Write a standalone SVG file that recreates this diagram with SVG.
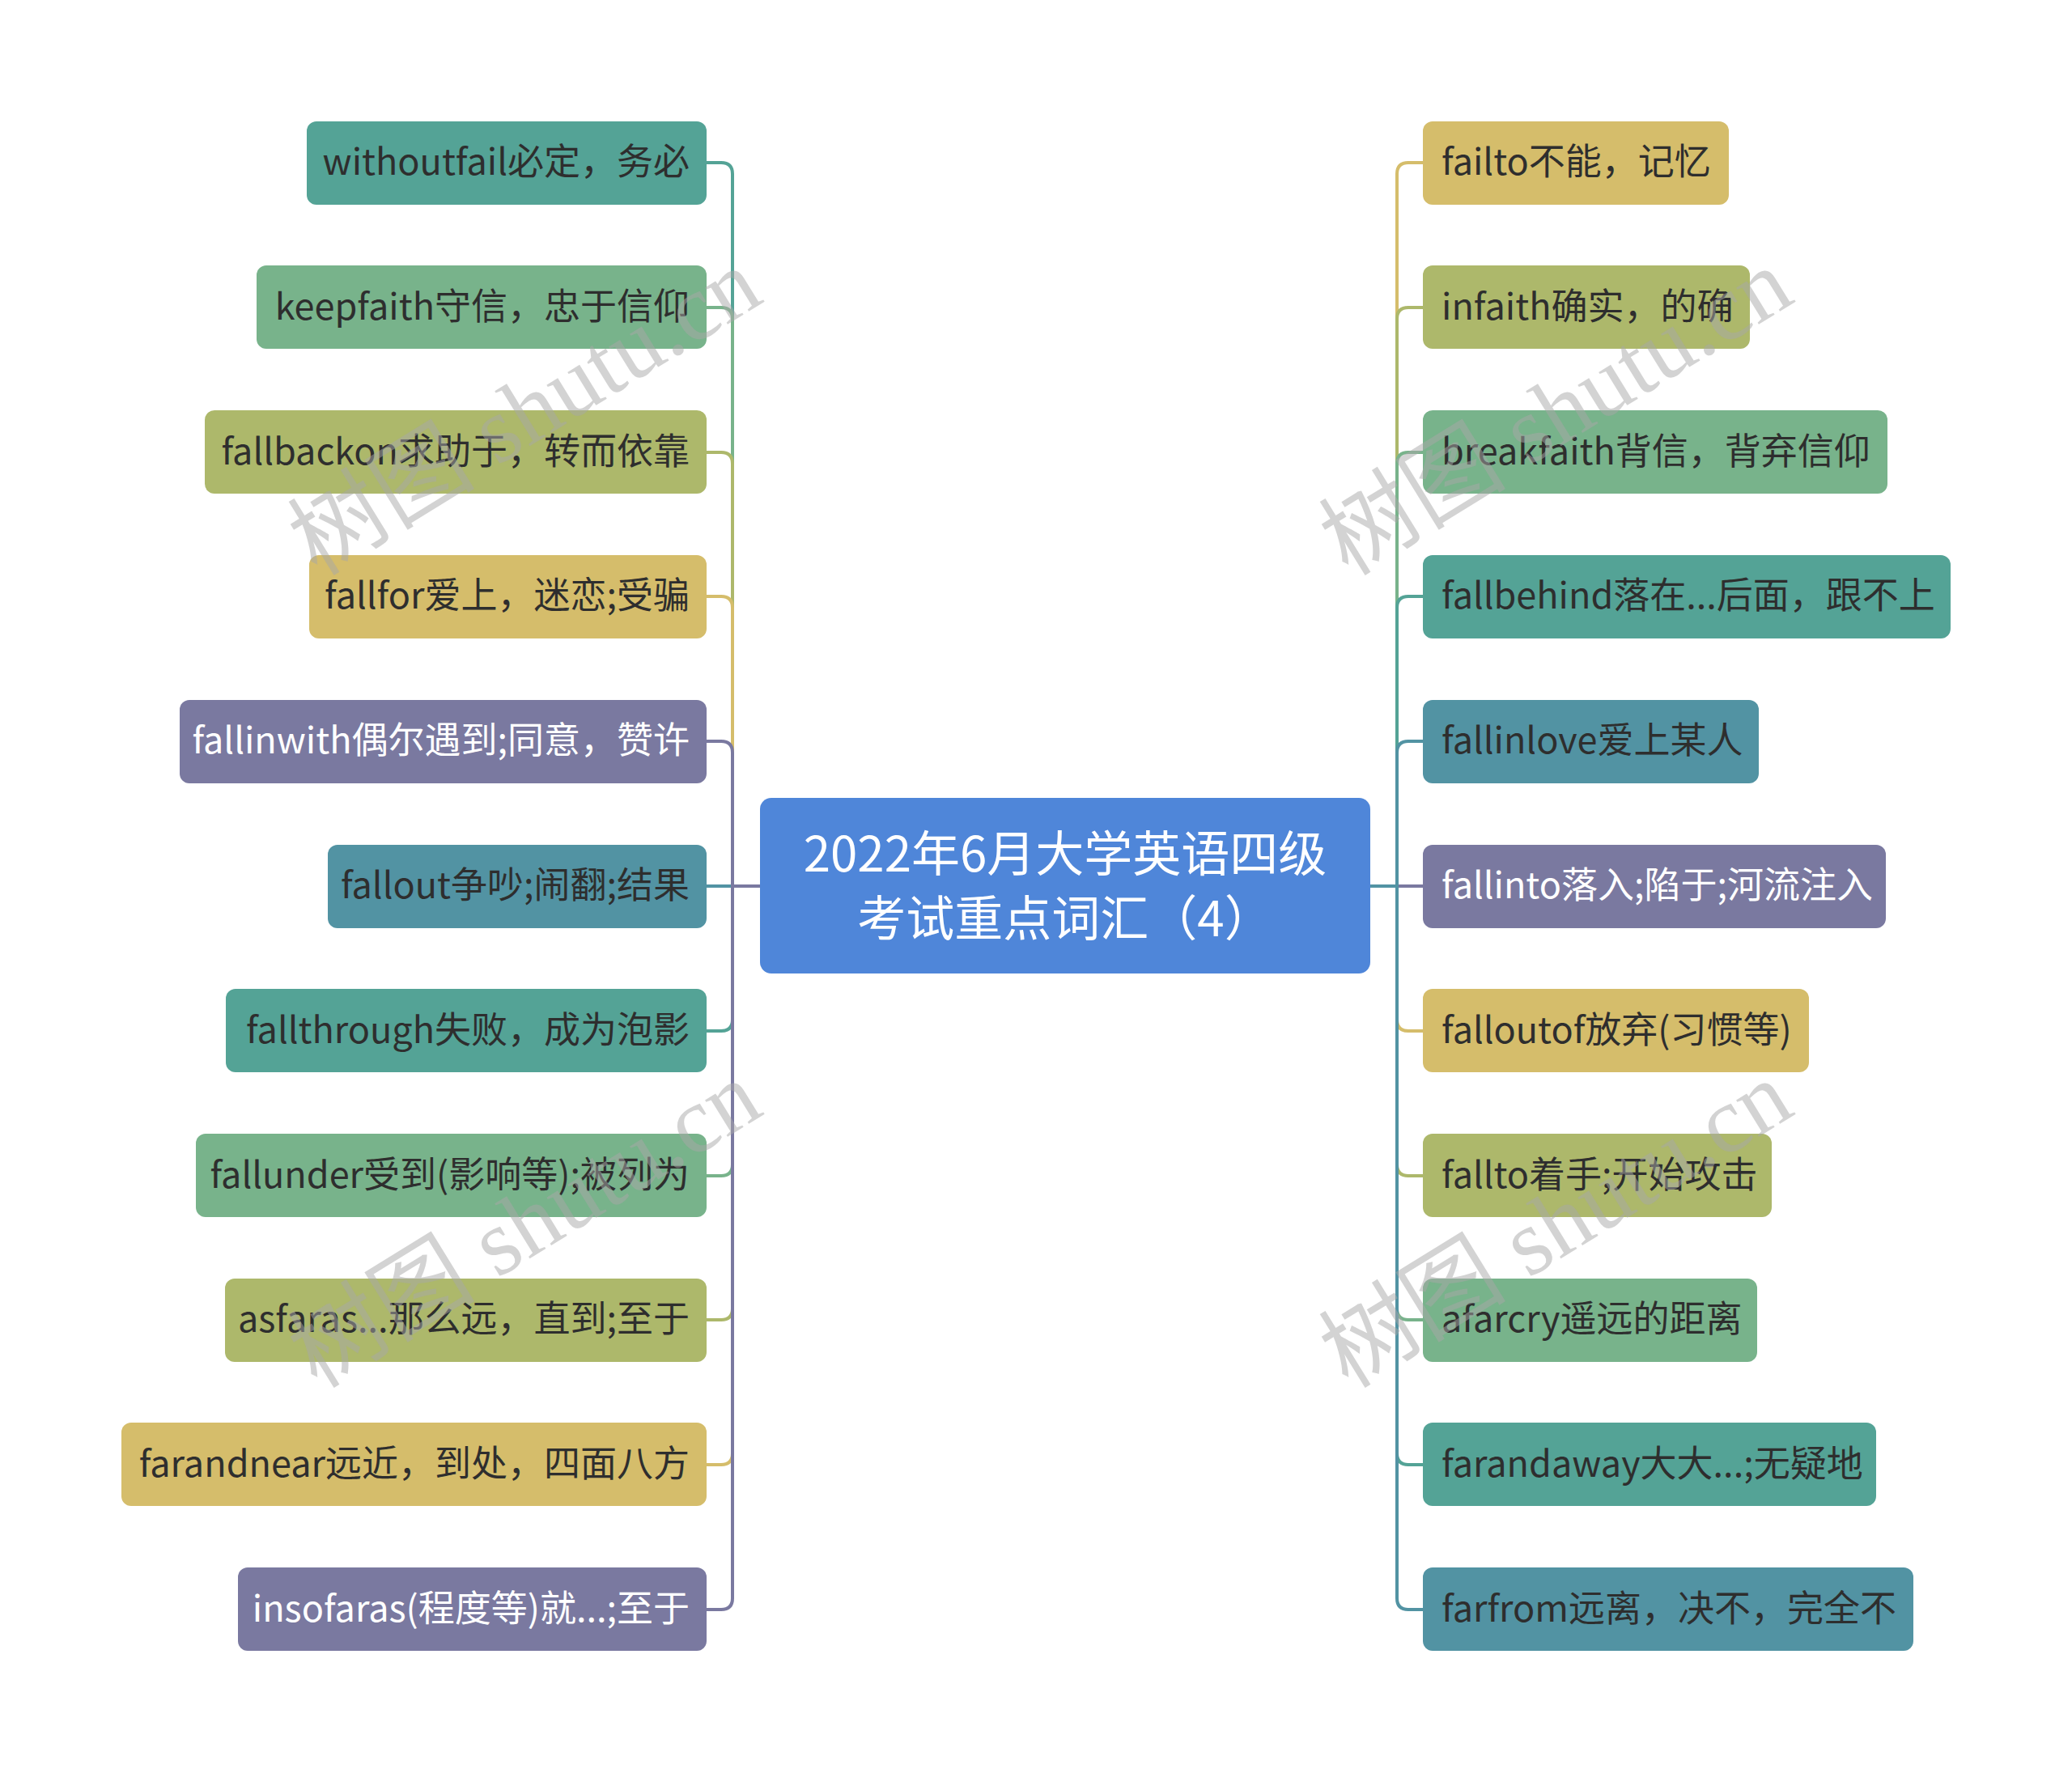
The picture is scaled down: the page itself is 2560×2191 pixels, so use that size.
<svg xmlns="http://www.w3.org/2000/svg" width="2560" height="2191" viewBox="0 0 2560 2191">
<style>
.t{font-family:"Noto Sans CJK SC","Noto Sans",sans-serif;font-size:45px;fill:#2e2e2e}
.w{fill:#ffffff}
.l{text-anchor:end}
.c{fill:none;stroke-width:4}
.wm{font-family:"Liberation Serif","Noto Sans CJK SC",serif;font-size:116px;fill:#a8a8a8;fill-opacity:0.5;text-anchor:middle}
.title{font-family:"Noto Sans CJK SC","Noto Sans",sans-serif;font-size:60px;fill:#ffffff;text-anchor:middle}
</style>
<rect width="2560" height="2191" fill="#ffffff"/>
<g id="connectors">
<path class="c" stroke="#54a396" d="M939 1095H905V215Q905 201 891 201H873"/>
<path class="c" stroke="#78b38b" d="M939 1095H905V394Q905 380 891 380H873"/>
<path class="c" stroke="#adb86b" d="M939 1095H905V573Q905 559 891 559H873"/>
<path class="c" stroke="#d5bd6b" d="M939 1095H905V751Q905 737 891 737H873"/>
<path class="c" stroke="#7a79a0" d="M939 1095H905V930Q905 916 891 916H873"/>
<path class="c" stroke="#5293a3" d="M939 1095H873"/>
<path class="c" stroke="#54a396" d="M939 1095H905V1260Q905 1274 891 1274H873"/>
<path class="c" stroke="#78b38b" d="M939 1095H905V1439Q905 1453 891 1453H873"/>
<path class="c" stroke="#adb86b" d="M939 1095H905V1617Q905 1631 891 1631H873"/>
<path class="c" stroke="#d5bd6b" d="M939 1095H905V1796Q905 1810 891 1810H873"/>
<path class="c" stroke="#7a79a0" d="M939 1095H905V1975Q905 1989 891 1989H873"/>
<path class="c" stroke="#d5bd6b" d="M1693 1095H1726V215Q1726 201 1740 201H1758"/>
<path class="c" stroke="#adb86b" d="M1693 1095H1726V394Q1726 380 1740 380H1758"/>
<path class="c" stroke="#78b38b" d="M1693 1095H1726V573Q1726 559 1740 559H1758"/>
<path class="c" stroke="#54a396" d="M1693 1095H1726V751Q1726 737 1740 737H1758"/>
<path class="c" stroke="#5293a3" d="M1693 1095H1726V930Q1726 916 1740 916H1758"/>
<path class="c" stroke="#7a79a0" d="M1693 1095H1758"/>
<path class="c" stroke="#d5bd6b" d="M1693 1095H1726V1260Q1726 1274 1740 1274H1758"/>
<path class="c" stroke="#adb86b" d="M1693 1095H1726V1439Q1726 1453 1740 1453H1758"/>
<path class="c" stroke="#78b38b" d="M1693 1095H1726V1617Q1726 1631 1740 1631H1758"/>
<path class="c" stroke="#54a396" d="M1693 1095H1726V1796Q1726 1810 1740 1810H1758"/>
<path class="c" stroke="#5293a3" d="M1693 1095H1726V1975Q1726 1989 1740 1989H1758"/>
</g>
<g id="center"><rect x="939" y="986" width="754" height="217" rx="14" fill="#4f86d9"/>
<text class="title" x="1316" y="1077">2022年6月大学英语四级</text>
<text class="title" x="1316" y="1157">考试重点词汇（4）</text></g>
<g id="L1"><rect x="379" y="150" width="494" height="103" rx="12" fill="#54a396"/><text class="t l" x="852" y="216">withoutfail必定，务必</text></g>
<g id="L2"><rect x="317" y="328" width="556" height="103" rx="12" fill="#78b38b"/><text class="t l" x="852" y="395">keepfaith守信，忠于信仰</text></g>
<g id="L3"><rect x="253" y="507" width="620" height="103" rx="12" fill="#adb86b"/><text class="t l" x="852" y="574">fallbackon求助于，转而依靠</text></g>
<g id="L4"><rect x="382" y="686" width="491" height="103" rx="12" fill="#d5bd6b"/><text class="t l" x="852" y="752">fallfor爱上，迷恋;受骗</text></g>
<g id="L5"><rect x="222" y="865" width="651" height="103" rx="12" fill="#7a79a0"/><text class="t l w" x="852" y="931">fallinwith偶尔遇到;同意，赞许</text></g>
<g id="L6"><rect x="405" y="1044" width="468" height="103" rx="12" fill="#5293a3"/><text class="t l" x="852" y="1110">fallout争吵;闹翻;结果</text></g>
<g id="L7"><rect x="279" y="1222" width="594" height="103" rx="12" fill="#54a396"/><text class="t l" x="852" y="1289">fallthrough失败，成为泡影</text></g>
<g id="L8"><rect x="242" y="1401" width="631" height="103" rx="12" fill="#78b38b"/><text class="t l" x="852" y="1468">fallunder受到(影响等);被列为</text></g>
<g id="L9"><rect x="278" y="1580" width="595" height="103" rx="12" fill="#adb86b"/><text class="t l" x="852" y="1646">asfaras...那么远，直到;至于</text></g>
<g id="L10"><rect x="150" y="1758" width="723" height="103" rx="12" fill="#d5bd6b"/><text class="t l" x="852" y="1825">farandnear远近，到处，四面八方</text></g>
<g id="L11"><rect x="294" y="1937" width="579" height="103" rx="12" fill="#7a79a0"/><text class="t l w" x="852" y="2004">insofaras(程度等)就...;至于</text></g>
<g id="R1"><rect x="1758" y="150" width="378" height="103" rx="12" fill="#d5bd6b"/><text class="t" x="1781" y="216">failto不能，记忆</text></g>
<g id="R2"><rect x="1758" y="328" width="404" height="103" rx="12" fill="#adb86b"/><text class="t" x="1781" y="395">infaith确实，的确</text></g>
<g id="R3"><rect x="1758" y="507" width="574" height="103" rx="12" fill="#78b38b"/><text class="t" x="1781" y="574">breakfaith背信，背弃信仰</text></g>
<g id="R4"><rect x="1758" y="686" width="652" height="103" rx="12" fill="#54a396"/><text class="t" x="1781" y="752">fallbehind落在...后面，跟不上</text></g>
<g id="R5"><rect x="1758" y="865" width="415" height="103" rx="12" fill="#5293a3"/><text class="t" x="1781" y="931">fallinlove爱上某人</text></g>
<g id="R6"><rect x="1758" y="1044" width="572" height="103" rx="12" fill="#7a79a0"/><text class="t w" x="1781" y="1110">fallinto落入;陷于;河流注入</text></g>
<g id="R7"><rect x="1758" y="1222" width="477" height="103" rx="12" fill="#d5bd6b"/><text class="t" x="1781" y="1289">falloutof放弃(习惯等)</text></g>
<g id="R8"><rect x="1758" y="1401" width="431" height="103" rx="12" fill="#adb86b"/><text class="t" x="1781" y="1468">fallto着手;开始攻击</text></g>
<g id="R9"><rect x="1758" y="1580" width="413" height="103" rx="12" fill="#78b38b"/><text class="t" x="1781" y="1646">afarcry遥远的距离</text></g>
<g id="R10"><rect x="1758" y="1758" width="560" height="103" rx="12" fill="#54a396"/><text class="t" x="1781" y="1825">farandaway大大...;无疑地</text></g>
<g id="R11"><rect x="1758" y="1937" width="606" height="103" rx="12" fill="#5293a3"/><text class="t" x="1781" y="2004">farfrom远离，决不，完全不</text></g>
<g id="watermarks">
<text class="wm" x="649" y="548" transform="rotate(-31.6 649 510)">树图 shutu.cn</text>
<text class="wm" x="1923" y="548" transform="rotate(-31.6 1923 510)">树图 shutu.cn</text>
<text class="wm" x="649" y="1552" transform="rotate(-31.6 649 1514)">树图 shutu.cn</text>
<text class="wm" x="1923" y="1552" transform="rotate(-31.6 1923 1514)">树图 shutu.cn</text>
</g>
</svg>
